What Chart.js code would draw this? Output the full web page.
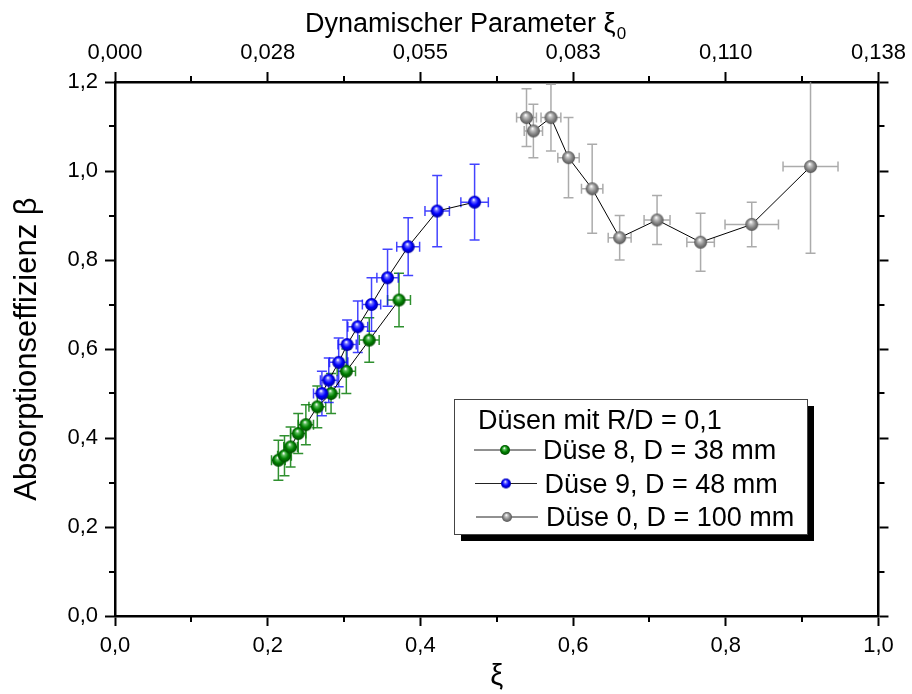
<!DOCTYPE html>
<html>
<head>
<meta charset="utf-8">
<script src="https://cdn.jsdelivr.net/npm/chart.js@4.4.1/dist/chart.umd.min.js"></script>
<style>
  body { margin: 0; background: #fff; }
  #wrap { width: 912px; height: 694px; }
</style>
</head>
<body>
<div id="wrap"><canvas id="chart" width="912" height="694"></canvas></div>
<script>
// ===== DATA =====
const xiGreen   = [0.214, 0.222, 0.230, 0.240, 0.250, 0.265, 0.283, 0.303, 0.333, 0.372];
const betaGreen = [0.35, 0.36, 0.38, 0.41, 0.43, 0.47, 0.50, 0.55, 0.62, 0.71];
const xErrGreen = [0.009, 0.009, 0.009, 0.010, 0.010, 0.011, 0.011, 0.012, 0.013, 0.015];
const yErrGreen = [0.045, 0.045, 0.045, 0.045, 0.045, 0.047, 0.045, 0.050, 0.050, 0.060];

const xiBlue   = [0.271, 0.280, 0.293, 0.304, 0.318, 0.336, 0.357, 0.384, 0.422, 0.471];
const betaBlue = [0.50, 0.53, 0.57, 0.61, 0.65, 0.70, 0.76, 0.83, 0.91, 0.93];
const xErrBlue = [0.011, 0.011, 0.012, 0.012, 0.013, 0.012, 0.014, 0.015, 0.016, 0.018];
const yErrBlue = [0.050, 0.050, 0.055, 0.055, 0.058, 0.060, 0.064, 0.065, 0.080, 0.085];

const xiGray   = [0.539, 0.548, 0.571, 0.594, 0.625, 0.661, 0.710, 0.767, 0.834, 0.911];
const betaGray = [1.12, 1.09, 1.12, 1.03, 0.96, 0.85, 0.89, 0.84, 0.88, 1.01];
const xErrGray = [0.013, 0.012, 0.013, 0.014, 0.014, 0.015, 0.017, 0.018, 0.035, 0.036];
const yErrGray = [0.065, 0.060, 0.075, 0.090, 0.100, 0.050, 0.055, 0.065, 0.050, 0.195];

const seriesLabels = ['Düse 8, D = 38 mm', 'Düse 9, D = 48 mm', 'Düse 0, D = 100 mm'];
const legendTitle = 'Düsen mit R/D = 0,1';
const topTickLabels = ['0,000', '0,028', '0,055', '0,083', '0,110', '0,138'];

const FONT = "'Liberation Sans', Arial, sans-serif";

// shaded ball used as point marker
function sphere(r, light, base, dark) {
    const s = Math.ceil(2 * r + 2);
    const c = document.createElement('canvas');
    c.width = c.height = s;
    const g = c.getContext('2d');
    const cx = s / 2, cy = s / 2;
    const grad = g.createRadialGradient(cx - r * 0.15, cy - r * 0.4, r * 0.05, cx, cy, r);
    grad.addColorStop(0, '#ffffff');
    grad.addColorStop(0.22, light);
    grad.addColorStop(0.6, base);
    grad.addColorStop(1, dark);
    g.fillStyle = grad;
    g.beginPath();
    g.arc(cx, cy, r, 0, Math.PI * 2);
    g.fill();
    return c;
}

const palette = [
    { light: '#5fbf5f', base: '#008000', dark: '#004a00', bar: 'rgba(10,125,10,0.85)' },
    { light: '#7070ff', base: '#0000ff', dark: '#00009a', bar: 'rgba(20,20,255,0.8)' },
    { light: '#c8c8c8', base: '#8a8a8a', dark: '#555555', bar: 'rgba(150,150,150,0.8)' }
];

function points(xs, ys, xe, ye) {
    return xs.map((x, i) => ({ x: x, y: ys[i], xErr: xe[i], yErr: ye[i] }));
}

const fmt = (v, d) => Number(v).toFixed(d).replace('.', ',');

// ===== ERROR BARS =====
const errorBars = {
    id: 'errorBars',
    beforeDatasetsDraw(chart) {
        const { ctx, chartArea: a, scales: { x, y } } = chart;
        ctx.save();
        ctx.beginPath();
        ctx.rect(a.left, a.top, a.right - a.left, a.bottom - a.top);
        ctx.clip();
        ctx.lineWidth = 1.5;
        const cap = 5;
        chart.data.datasets.forEach((ds, di) => {
            ctx.strokeStyle = palette[di].bar;
            ds.data.forEach(p => {
                const px = x.getPixelForValue(p.x), py = y.getPixelForValue(p.y);
                const x0 = x.getPixelForValue(p.x - p.xErr), x1 = x.getPixelForValue(p.x + p.xErr);
                const y0 = y.getPixelForValue(p.y - p.yErr), y1 = y.getPixelForValue(p.y + p.yErr);
                ctx.beginPath();
                ctx.moveTo(px, y0); ctx.lineTo(px, y1);
                ctx.moveTo(px - cap, y0); ctx.lineTo(px + cap, y0);
                ctx.moveTo(px - cap, y1); ctx.lineTo(px + cap, y1);
                ctx.moveTo(x0, py); ctx.lineTo(x1, py);
                ctx.moveTo(x0, py - cap); ctx.lineTo(x0, py + cap);
                ctx.moveTo(x1, py - cap); ctx.lineTo(x1, py + cap);
                ctx.stroke();
            });
        });
        ctx.restore();
    }
};

// ===== MINOR TICKS, TOP TITLE, LEGEND =====
const decorations = {
    id: 'decorations',
    afterDraw(chart) {
        const { ctx, chartArea: a, scales: { x, y } } = chart;
        ctx.save();
        ctx.strokeStyle = '#000';
        ctx.lineWidth = 2;
        const minor = 6;
        ctx.beginPath();
        [0.1, 0.3, 0.5, 0.7, 0.9].forEach(v => {
            const px = Math.round(x.getPixelForValue(v));
            ctx.moveTo(px, a.bottom); ctx.lineTo(px, a.bottom + minor);
            ctx.moveTo(px, a.top); ctx.lineTo(px, a.top - minor);
        });
        [0.1, 0.3, 0.5, 0.7, 0.9, 1.1].forEach(v => {
            const py = Math.round(y.getPixelForValue(v));
            ctx.moveTo(a.left, py); ctx.lineTo(a.left - minor, py);
            ctx.moveTo(a.right, py); ctx.lineTo(a.right + minor, py);
        });
        ctx.stroke();

        // top axis title with subscript
        ctx.fillStyle = '#000';
        ctx.textBaseline = 'alphabetic';
        ctx.textAlign = 'left';
        ctx.font = '27px ' + FONT;
        const t = 'Dynamischer Parameter ξ';
        ctx.fillText(t, 305, 32);
        const w = ctx.measureText(t).width;
        ctx.font = '17px ' + FONT;
        ctx.fillText('0', 305 + w + 1, 39);

        // legend box with shadow
        const L = 454, T = 399, W = 353, H = 135;
        ctx.fillStyle = '#000';
        ctx.fillRect(L + 7, T + 7, W, H);
        ctx.fillStyle = '#fff';
        ctx.fillRect(L, T, W, H);
        ctx.strokeStyle = '#444';
        ctx.lineWidth = 1;
        ctx.strokeRect(L + 0.5, T + 0.5, W, H);

        ctx.fillStyle = '#000';
        ctx.font = '27px ' + FONT;
        ctx.fillText(legendTitle, 478, 429);
        chart.data.datasets.forEach((ds, i) => {
            const base = 459 + i * 33.5;
            const cy = base - 9;
            ctx.strokeStyle = '#222';
            ctx.lineWidth = 1;
            ctx.beginPath();
            ctx.moveTo(474 + i, cy); ctx.lineTo(536 + i, cy);
            ctx.stroke();
            const img = legendBalls[i];
            ctx.drawImage(img, 505 + i - img.width / 2, cy - img.height / 2);
            ctx.fillStyle = '#000';
            ctx.fillText(ds.label, 543 + i * 1.5, base);
        });
        ctx.restore();
    }
};

const balls = palette.map(p => sphere(6.5, p.light, p.base, p.dark));
const legendBalls = palette.map(p => sphere(5, p.light, p.base, p.dark));

const tickFont = { family: FONT, size: 22 };

function dataset(i, xs, ys, xe, ye, order) {
    return {
        label: seriesLabels[i],
        data: points(xs, ys, xe, ye),
        showLine: true,
        borderColor: '#000',
        borderWidth: 1,
        pointStyle: balls[i],
        pointRadius: 6.5,
        order: order
    };
}

new Chart(document.getElementById('chart'), {
    type: 'scatter',
    data: {
        datasets: [
            dataset(0, xiGreen, betaGreen, xErrGreen, yErrGreen, 1),
            dataset(1, xiBlue, betaBlue, xErrBlue, yErrBlue, 0),
            dataset(2, xiGray, betaGray, xErrGray, yErrGray, 2)
        ]
    },
    options: {
        responsive: false,
        animation: false,
        layout: { padding: 0 },
        plugins: { legend: { display: false }, tooltip: { enabled: false } },
        scales: {
            x: {
                type: 'linear', position: 'bottom', min: 0, max: 1,
                ticks: { stepSize: 0.2, callback: v => fmt(v, 1), font: tickFont, color: '#000', padding: 7, maxRotation: 0 },
                grid: { drawOnChartArea: false, tickLength: 10, tickWidth: 2, tickColor: '#000' },
                border: { color: '#000', width: 2.5 },
                title: { display: true, text: 'ξ', color: '#000', font: { family: FONT, size: 29 }, padding: { top: 0, bottom: 0 } },
                afterFit: s => { s.height = 78; }
            },
            x2: {
                type: 'linear', position: 'top', min: 0, max: 1,
                ticks: { stepSize: 0.2, callback: (v, i) => topTickLabels[i], font: tickFont, color: '#000', padding: 6, maxRotation: 0 },
                grid: { drawOnChartArea: false, tickLength: 10, tickWidth: 2, tickColor: '#000' },
                border: { color: '#000', width: 2.5 },
                afterFit: s => { s.height = 82; }
            },
            y: {
                type: 'linear', position: 'left', min: 0, max: 1.2,
                ticks: { stepSize: 0.2, callback: v => fmt(v, 1), font: tickFont, color: '#000', padding: 7 },
                grid: { drawOnChartArea: false, tickLength: 10, tickWidth: 2, tickColor: '#000' },
                border: { color: '#000', width: 2.5 },
                title: { display: true, text: 'Absorptionseffizienz β', color: '#000', font: { family: FONT, size: 31 }, padding: { top: 9, bottom: 0 } },
                afterFit: s => { s.width = 115; }
            },
            y2: {
                type: 'linear', position: 'right', min: 0, max: 1.2,
                ticks: { stepSize: 0.2, display: false },
                grid: { drawOnChartArea: false, tickLength: 10, tickWidth: 2, tickColor: '#000' },
                border: { color: '#000', width: 2.5 },
                afterFit: s => { s.width = 32; }
            }
        }
    },
    plugins: [errorBars, decorations]
});
</script>
</body>
</html>
